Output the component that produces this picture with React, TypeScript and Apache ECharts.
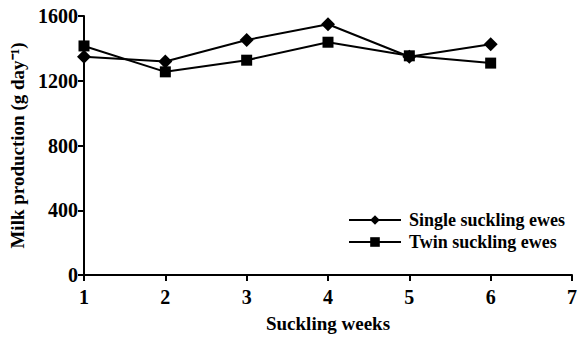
import React, { useEffect, useRef } from "react";
import * as echarts from "echarts";

const weeks = [1, 2, 3, 4, 5, 6];
const singleEwes = [1348, 1319, 1452, 1549, 1348, 1426];
const twinEwes = [1415, 1255, 1327, 1438, 1354, 1309];
const seriesNames = ["Single suckling ewes", "Twin suckling ewes"];

const font = "'Liberation Serif', 'Times New Roman', serif";

export default function App() {
  const ref = useRef<HTMLDivElement>(null);
  useEffect(() => {
    const chart = echarts.init(ref.current!, null, { renderer: "svg" });
    const pair = (vals: number[]) => weeks.map((w, i) => [w, vals[i]]);
    const txt = { fontFamily: font, color: "#000", fontWeight: "bold" as const };
    chart.setOption({
      animation: false,
      backgroundColor: "#fff",
      grid: { left: 84, right: 7, top: 16, bottom: 64 },
      legend: {
        orient: "vertical",
        left: 343,
        top: 206,
        itemWidth: 52,
        itemHeight: 12,
        itemGap: 4,
        data: seriesNames,
        textStyle: { ...txt, fontSize: 18, padding: [0, 0, 0, 3] },
      },
      xAxis: {
        type: "value",
        min: 1,
        max: 7,
        interval: 1,
        name: "Suckling weeks",
        nameLocation: "middle",
        nameGap: 39,
        nameTextStyle: { ...txt, fontSize: 19 },
        axisLine: { show: true, lineStyle: { color: "#000", width: 2 } },
        axisTick: { show: true, length: 6, lineStyle: { color: "#000", width: 2 } },
        axisLabel: { ...txt, fontSize: 20, margin: 12, formatter: (v: number) => String(v) },
        splitLine: { show: false },
      },
      yAxis: {
        type: "value",
        min: 0,
        max: 1600,
        interval: 400,
        name: "Milk production (g day⁻¹)",
        nameLocation: "middle",
        nameGap: 55,
        nameRotate: 90,
        nameTextStyle: { ...txt, fontSize: 19 },
        axisLine: { show: true, lineStyle: { color: "#000", width: 2 } },
        axisTick: { show: true, length: 6, lineStyle: { color: "#000", width: 2 } },
        axisLabel: { ...txt, fontSize: 20, margin: 6, formatter: (v: number) => String(v) },
        splitLine: { show: false },
      },
      series: [
        {
          name: seriesNames[0],
          type: "line",
          data: pair(singleEwes),
          symbol: "diamond",
          symbolSize: 14,
          lineStyle: { color: "#000", width: 2 },
          itemStyle: { color: "#000" },
          z: 3,
        },
        {
          name: seriesNames[1],
          type: "line",
          data: pair(twinEwes),
          symbol: "rect",
          symbolSize: 11,
          lineStyle: { color: "#000", width: 2 },
          itemStyle: { color: "#000" },
          z: 2,
        },
      ],
    });
    return () => chart.dispose();
  }, []);
  return <div ref={ref} style={{ width: 580, height: 339, position: "absolute", left: 0, top: 0 }} />;
}
